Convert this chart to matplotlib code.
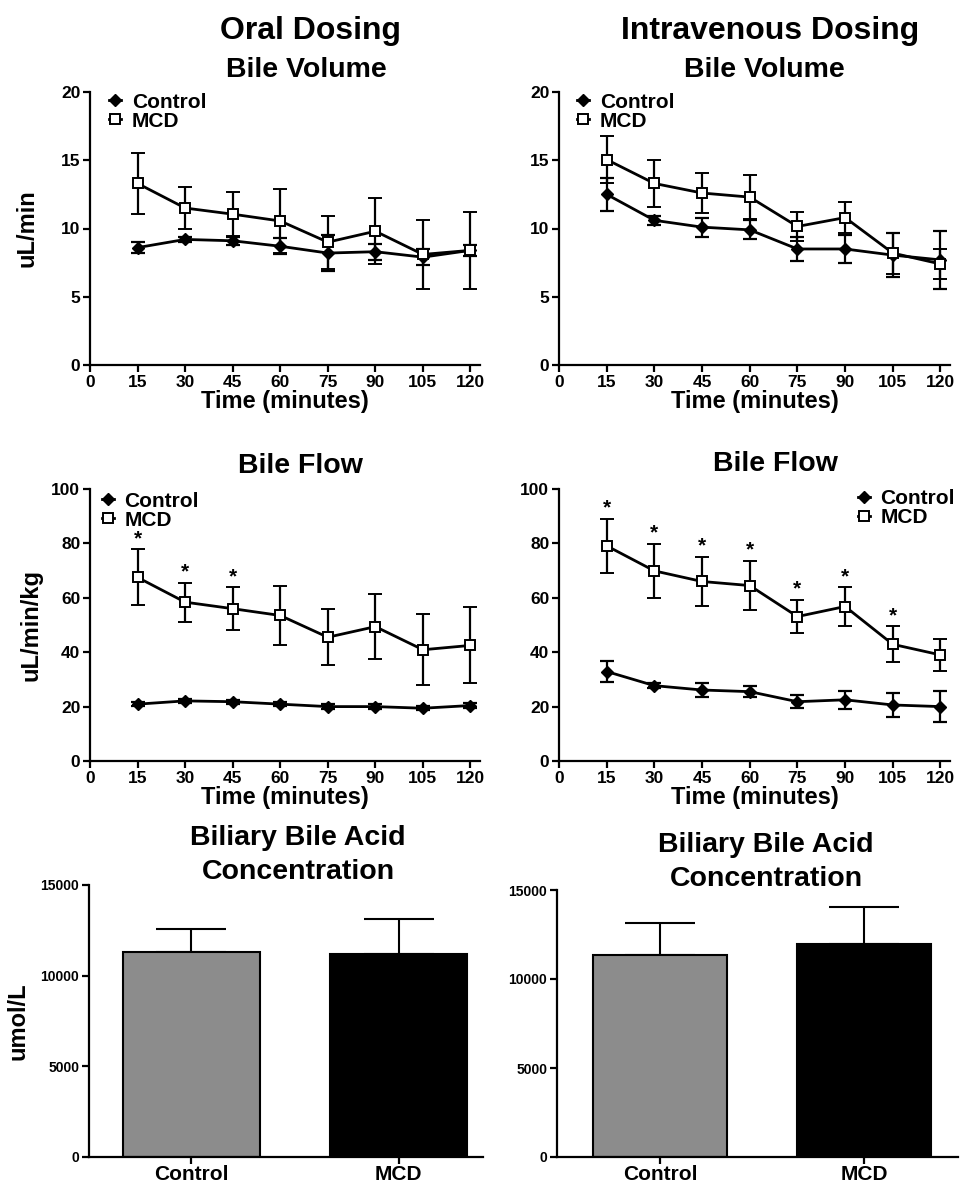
import numpy as np
import matplotlib
matplotlib.use("Agg")
import matplotlib.pyplot as plt

plt.rcParams['font.family'] = ['Liberation Sans', 'DejaVu Sans']
plt.rcParams['font.weight'] = 'bold'

# --- data ---
time = [15, 30, 45, 60, 75, 90, 105, 120]
x_ticks = [0, 15, 30, 45, 60, 75, 90, 105, 120]

# oral dosing, bile volume (uL/min)
oral_vol_ctrl = [8.6, 9.2, 9.1, 8.7, 8.2, 8.3, 7.9, 8.4]
oral_vol_ctrl_err = [0.4, 0.2, 0.3, 0.6, 1.3, 0.6, 0.6, 0.4]
oral_vol_mcd = [13.3, 11.5, 11.05, 10.55, 9.0, 9.8, 8.1, 8.4]
oral_vol_mcd_err = [2.25, 1.55, 1.6, 2.35, 1.95, 2.4, 2.5, 2.8]

# intravenous dosing, bile volume (uL/min)
iv_vol_ctrl = [12.5, 10.6, 10.1, 9.9, 8.5, 8.5, 8.05, 7.7]
iv_vol_ctrl_err = [1.2, 0.35, 0.7, 0.7, 0.9, 1.0, 1.6, 2.1]
iv_vol_mcd = [15.05, 13.3, 12.6, 12.3, 10.15, 10.8, 8.2, 7.4]
iv_vol_mcd_err = [1.7, 1.75, 1.5, 1.6, 1.05, 1.15, 1.5, 1.1]

# oral dosing, bile flow (uL/min/kg)
oral_flow_ctrl = [20.9, 22.1, 21.8, 20.9, 20.0, 20.0, 19.4, 20.4]
oral_flow_ctrl_err = [0.8, 0.8, 0.8, 0.8, 0.8, 0.8, 0.8, 0.8]
oral_flow_mcd = [67.5, 58.4, 56.0, 53.5, 45.5, 49.4, 40.9, 42.5]
oral_flow_mcd_err = [10.3, 7.2, 7.8, 11.0, 10.2, 12.0, 13.0, 14.0]
oral_flow_sig = [15, 30, 45]

# intravenous dosing, bile flow (uL/min/kg)
iv_flow_ctrl = [32.9, 27.7, 26.1, 25.5, 21.8, 22.5, 20.6, 20.0]
iv_flow_ctrl_err = [4.0, 1.0, 2.5, 2.0, 2.3, 3.2, 4.3, 5.6]
iv_flow_mcd = [79.1, 69.9, 66.0, 64.5, 53.1, 56.8, 42.9, 39.0]
iv_flow_mcd_err = [10.0, 10.0, 9.0, 9.0, 6.2, 7.0, 6.6, 5.8]
iv_flow_sig = [15, 30, 45, 60, 75, 90, 105]

# biliary bile acid concentration (umol/L)
groups = ['Control', 'MCD']
oral_bile_acid = [11320, 11220]
oral_bile_acid_err = [1280, 1930]
iv_bile_acid = [11370, 11940]
iv_bile_acid_err = [1790, 2120]
bar_colors = ['#8c8c8c', '#000000']

W, H = 965, 1187
fig = plt.figure(figsize=(W / 100, H / 100), dpi=100)


def box(l, t, r, b):
    return [l / W, 1 - b / H, (r - l) / W, (b - t) / H]


def style(ax, fs=12.5):
    for s in ['top', 'right']:
        ax.spines[s].set_visible(False)
    for s in ['left', 'bottom']:
        ax.spines[s].set_linewidth(1.6)
    ax.tick_params(width=1.6, length=5, labelsize=fs, pad=2)
    for lab in ax.get_xticklabels() + ax.get_yticklabels():
        lab.set_fontweight('bold')


def line_panel(ax, ctrl, ctrl_err, mcd, mcd_err, ymax, ystep, sig=None, legend_anchor=(0.05, 1.0),
               legend_loc='upper left'):
    ax.errorbar(time, ctrl, yerr=ctrl_err, color='black', lw=2, marker='D', ms=6.5,
                mfc='black', mec='black', capsize=5, capthick=1.6, elinewidth=1.6,
                label='Control', zorder=3)
    ax.errorbar(time, mcd, yerr=mcd_err, color='black', lw=2, marker='s', ms=7,
                mfc='white', mec='black', mew=1.4, capsize=5, capthick=1.6, elinewidth=1.6,
                label='MCD', zorder=4)
    if sig:
        for t in sig:
            i = time.index(t)
            ax.text(t, mcd[i] + mcd_err[i] + 0.5, '*', ha='center', va='bottom',
                    fontsize=15, fontweight='bold')
    ax.set_xlim(0, 123)
    ax.set_ylim(0, ymax)
    ax.set_xticks(x_ticks)
    ax.set_yticks(np.arange(0, ymax + 1, ystep))
    ax.set_xlabel('Time (minutes)', fontsize=17, fontweight='bold', labelpad=0)
    style(ax)
    h, l = ax.get_legend_handles_labels()
    h = [hh[0] for hh in h]
    ax.legend(h, l, loc=legend_loc, bbox_to_anchor=legend_anchor, frameon=False,
              fontsize=15, handlelength=0.6, handletextpad=0.5, labelspacing=0.0,
              borderaxespad=0, borderpad=0)


ax1 = fig.add_axes(box(90, 92, 480, 365))
line_panel(ax1, oral_vol_ctrl, oral_vol_ctrl_err, oral_vol_mcd, oral_vol_mcd_err, 20, 5,
           legend_anchor=(0.048, 0.998))
ax1.set_ylabel('uL/min', fontsize=17, fontweight='bold', labelpad=16)

ax2 = fig.add_axes(box(559, 92, 950, 365))
line_panel(ax2, iv_vol_ctrl, iv_vol_ctrl_err, iv_vol_mcd, iv_vol_mcd_err, 20, 5,
           legend_anchor=(0.046, 0.998))

ax3 = fig.add_axes(box(90, 489, 480, 761))
line_panel(ax3, oral_flow_ctrl, oral_flow_ctrl_err, oral_flow_mcd, oral_flow_mcd_err, 100, 20,
           sig=oral_flow_sig, legend_anchor=(0.03, 0.99))
ax3.set_ylabel('uL/min/kg', fontsize=17, fontweight='bold', labelpad=6)

ax4 = fig.add_axes(box(559, 489, 950, 761))
line_panel(ax4, iv_flow_ctrl, iv_flow_ctrl_err, iv_flow_mcd, iv_flow_mcd_err, 100, 20,
           sig=iv_flow_sig, legend_anchor=(1.013, 1.0), legend_loc='upper right')


def bar_panel(ax, vals, errs, xlim):
    x = np.arange(len(groups))
    ax.bar(x, vals, width=0.66, color=bar_colors, edgecolor='black', linewidth=1.5, zorder=2)
    ax.errorbar(x, vals, yerr=[[0, 0], errs], fmt='none', ecolor='black', elinewidth=1.5,
                capsize=25, capthick=1.5, zorder=1)
    ax.set_xlim(*xlim)
    ax.set_ylim(0, 15000)
    ax.set_yticks([0, 5000, 10000, 15000])
    ax.set_xticks(x)
    ax.set_xticklabels(groups)
    style(ax, fs=10)
    ax.tick_params(axis='x', labelsize=15, pad=1)
    for lab in ax.get_xticklabels() + ax.get_yticklabels():
        lab.set_fontweight('bold')


ax5 = fig.add_axes(box(89, 885, 483, 1157))
bar_panel(ax5, oral_bile_acid, oral_bile_acid_err, (-0.495, 1.408))
ax5.set_ylabel('umol/L', fontsize=17, fontweight='bold', labelpad=8)

ax6 = fig.add_axes(box(557, 890, 958, 1157))
bar_panel(ax6, iv_bile_acid, iv_bile_acid_err, (-0.505, 1.46))


# titles
def ftext(x, y, s, fs):
    fig.text(x / W, 1 - y / H, s, ha='center', va='center', fontsize=fs, fontweight='bold')


ftext(311, 31, 'Oral Dosing', 23)
ftext(306, 70, 'Bile Volume', 20.5)
ftext(770, 31, 'Intravenous Dosing', 23)
ftext(764, 70, 'Bile Volume', 20.5)
ftext(300, 466, 'Bile Flow', 20.5)
ftext(775, 464, 'Bile Flow', 20.5)
ftext(298, 838, 'Biliary Bile Acid', 20.5)
ftext(298, 872, 'Concentration', 20.5)
ftext(766, 845, 'Biliary Bile Acid', 20.5)
ftext(766, 879, 'Concentration', 20.5)

fig.savefig('out.png', dpi=100)
